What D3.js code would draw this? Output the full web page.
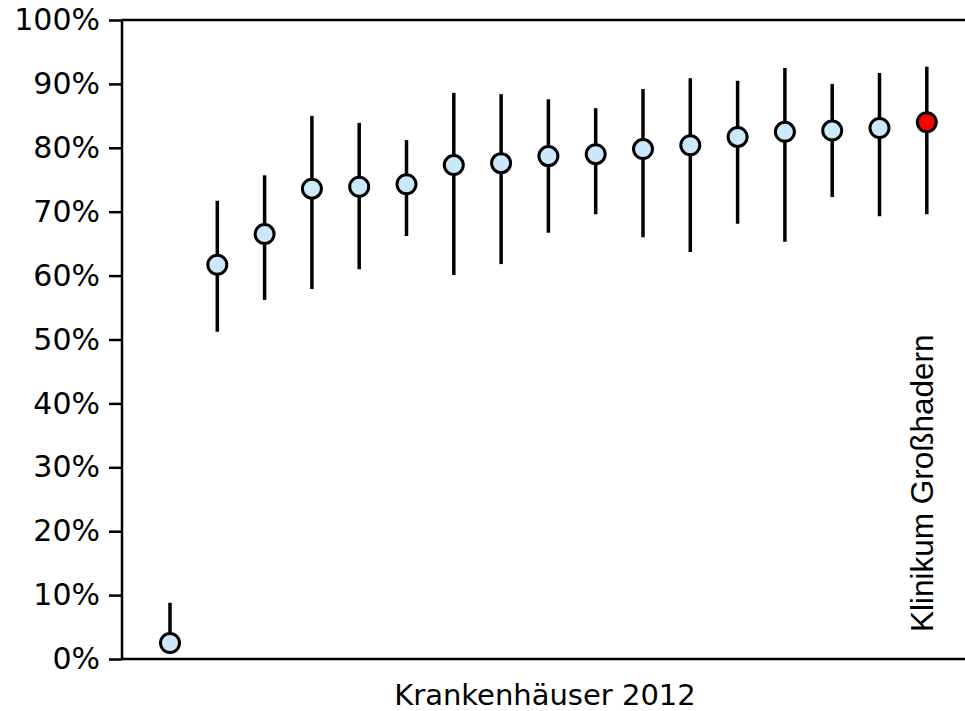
<!DOCTYPE html>
<html>
<head>
<meta charset="utf-8">
<script src="https://cdn.jsdelivr.net/npm/d3@7"></script>
<style>
  body { margin: 0; background: #fff; }
  svg { display: block; }
</style>
</head>
<body>
<div id="chart"></div>
<script>
// hospitals 2012, sorted by value; last one is Klinikum Großhadern
const hospitals = d3.range(1, 18);
const values = [2.5, 61.7, 66.5, 73.6, 73.9, 74.3, 77.3, 77.6, 78.7, 79.0, 79.8, 80.4, 81.7, 82.5, 82.7, 83.1, 84.0];
const upper = [8.8, 71.7, 75.7, 85.0, 83.9, 81.2, 88.6, 88.4, 87.6, 86.2, 89.2, 90.9, 90.5, 92.5, 90.0, 91.7, 92.7];
const lower = [1.0, 51.2, 56.2, 57.9, 61.0, 66.2, 60.1, 61.8, 66.7, 69.6, 66.0, 63.7, 68.1, 65.3, 72.3, 69.3, 69.6];
const yTicks = [0, 10, 20, 30, 40, 50, 60, 70, 80, 90, 100];
const highlight = 17;
const xTitle = "Krankenhäuser 2012";
const highlightLabel = "Klinikum Großhadern";

const data = hospitals.map((h, i) => ({ h: h, v: values[i], hi: upper[i], lo: lower[i] }));

const width = 965, height = 711;
const margin = { top: 20, right: 0, bottom: 52, left: 122 };

const svg = d3.select("#chart").append("svg")
    .attr("width", width)
    .attr("height", height);

const x = d3.scaleLinear()
    .domain([0, 18])
    .range([margin.left + 0.7, margin.left + 0.7 + 18 * 47.3]);

const y = d3.scaleLinear()
    .domain([0, 100])
    .range([height - margin.bottom, margin.top]);

// y axis
const yAxis = svg.append("g")
    .attr("transform", "translate(" + margin.left + ",0)")
    .call(d3.axisLeft(y).tickValues(yTicks).tickSize(13).tickPadding(9).tickFormat(d => d + "%"));
yAxis.select(".domain").remove();
yAxis.selectAll("line").attr("stroke", "#000").attr("stroke-width", 2.5);
yAxis.selectAll("text")
    .attr("fill", "#000")
    .style("font-family", "DejaVu Sans, Verdana, sans-serif")
    .style("font-size", "30px");

// frame: left, top, bottom
svg.append("line")
    .attr("x1", margin.left).attr("x2", margin.left)
    .attr("y1", y(100)).attr("y2", y(0))
    .attr("stroke", "#000").attr("stroke-width", 2.5);
svg.append("line")
    .attr("x1", margin.left - 1).attr("x2", width)
    .attr("y1", y(100)).attr("y2", y(100))
    .attr("stroke", "#000").attr("stroke-width", 2.5);
svg.append("line")
    .attr("x1", margin.left - 1).attr("x2", width)
    .attr("y1", y(0)).attr("y2", y(0))
    .attr("stroke", "#000").attr("stroke-width", 2.5);

// whiskers
svg.selectAll(".whisker")
    .data(data)
    .enter()
    .append("line")
    .attr("class", "whisker")
    .attr("x1", d => x(d.h)).attr("x2", d => x(d.h))
    .attr("y1", d => y(d.hi)).attr("y2", d => y(d.lo))
    .attr("stroke", "#000")
    .attr("stroke-width", 3.5);

// points
svg.selectAll(".dot")
    .data(data)
    .enter()
    .append("circle")
    .attr("class", "dot")
    .attr("cx", d => x(d.h))
    .attr("cy", d => y(d.v))
    .attr("r", 9.5)
    .attr("fill", d => d.h === highlight ? "#ff0000" : "#cce9fb")
    .attr("stroke", "#000")
    .attr("stroke-width", 3);

// x title
svg.append("text")
    .attr("x", 545)
    .attr("y", 705)
    .attr("text-anchor", "middle")
    .style("font-family", "DejaVu Sans, Verdana, sans-serif")
    .style("font-size", "29px")
    .text(xTitle);

// label for the highlighted hospital
svg.append("text")
    .attr("transform", "translate(" + (x(highlight) + 6) + "," + 632 + ") rotate(-90)")
    .attr("text-anchor", "start")
    .style("font-family", "Liberation Sans, Arial, sans-serif")
    .style("font-size", "31.5px")
    .text(highlightLabel);
</script>
</body>
</html>
